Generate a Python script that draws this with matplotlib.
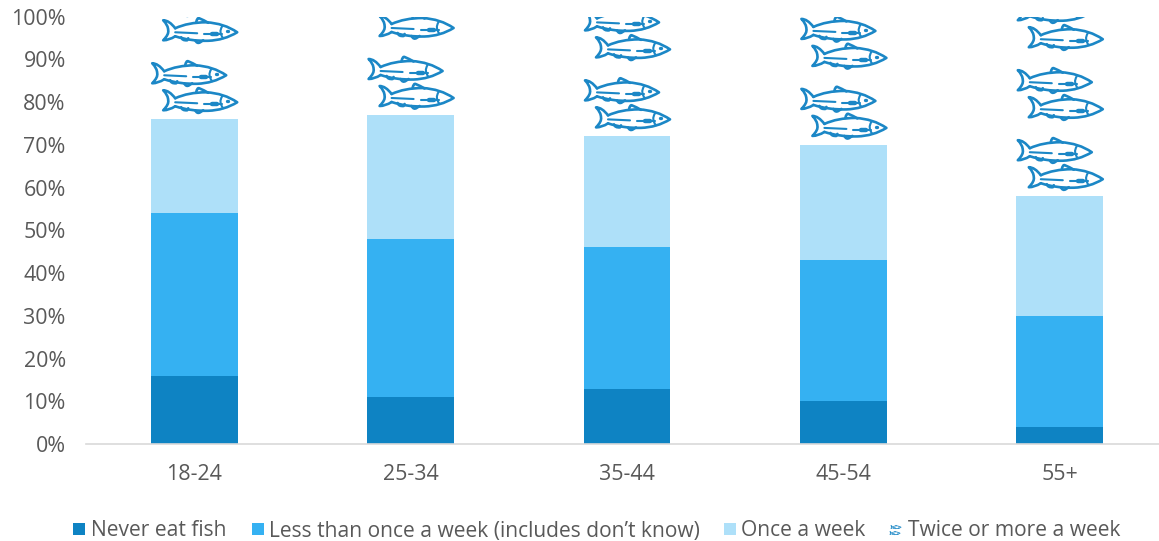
import matplotlib
matplotlib.use("Agg")
import matplotlib.pyplot as plt
from matplotlib.patches import PathPatch, Rectangle
from matplotlib.path import Path
from matplotlib.transforms import Affine2D

plt.rcParams['font.family'] = ['Open Sans', 'DejaVu Sans']

ages = ["18-24", "25-34", "35-44", "45-54", "55+"]
never = [16, 11, 13, 10, 4]
less_than_weekly = [38, 37, 33, 33, 26]
once_week = [22, 29, 26, 27, 28]
twice_or_more = [24, 23, 28, 30, 42]
series_names = ["Never eat fish", "Less than once a week (includes don\u2019t know)",
                "Once a week", "Twice or more a week"]

DARK = "#0e83c3"
MID = "#35b1f2"
LIGHT = "#aee0f9"
FISH = "#1b87c6"
TEXT = "#595959"

W, H = 1159, 541
fig = plt.figure(figsize=(W / 100, H / 100), dpi=100)
# the category band runs slightly past the right edge of the figure
ax = fig.add_axes([86 / W, 1 - 444.1 / H, 1082 / W, 427.4 / H])
ax.set_xlim(-0.5, 4.5)
ax.set_ylim(0, 100)

xpos = range(len(ages))
bottoms2 = [a for a in never]
bottoms3 = [a + b for a, b in zip(never, less_than_weekly)]
bottoms4 = [a + b + c for a, b, c in zip(never, less_than_weekly, once_week)]
ax.bar(xpos, never, width=0.402, color=DARK)
ax.bar(xpos, less_than_weekly, width=0.402, bottom=bottoms2, color=MID)
ax.bar(xpos, once_week, width=0.402, bottom=bottoms3, color=LIGHT)

# fish outline in pixels, centred on the body, nose to the right
M, L, C = Path.MOVETO, Path.LINETO, Path.CURVE3
fish_parts = [
    # tail
    ([(-25, -6), (-31, -10), (-37, -10), (-31, -4), (-32, 0), (-32, 5), (-37, 10), (-31, 10), (-25, 2)],
     [M, C, C, C, C, C, C, C, C], 1.9),
    # body
    ([(-25, 2), (-12, 8), (6, 8), (24, 7), (37, -2), (24, -10), (8, -10.5), (-10, -11), (-25, -6)],
     [M, C, C, C, C, C, C, C, C], 1.9),
    # dorsal fin
    ([(-4, 8), (-3, 13), (-1, 12), (4, 10), (8, 7.5)], [M, C, C, C, C], 1.9),
    # belly fins
    ([(-19, -7), (-18, -10.5), (-13, -10), (-12, -8)], [M, C, C, L], 1.9),
    ([(-5, -10), (-3, -14), (0, -12), (3, -10)], [M, C, C, L], 1.9),
    # gill
    ([(22, 4), (18, -2), (23, -8)], [M, C, C], 1.5),
    # lateral line
    ([(-25, -2), (-3, -3)], [M, L], 1.5),
    ([(4, -4), (22, -4)], [M, L], 1.5),
    ([(12, -4), (17, -4)], [M, L], 3.2),
    # eye
    ([(27, -1), (27.5, -1)], [M, L], 2.4),
]


def draw_fish(target, trans, scale):
    for verts, codes, lw in fish_parts:
        patch = PathPatch(Path(verts, codes), facecolor="none", edgecolor=FISH,
                          lw=lw * scale, transform=trans, capstyle="round", joinstyle="round")
        target.add_patch(patch)


# pixels per data unit, so the fish keep their shape on the data scale
px_x = 1082 / 5
px_y = 427.4 / 100
tile_h = 70 / px_y
for i, top, amount in zip(xpos, bottoms4, twice_or_more):
    n = 0
    while n * tile_h < amount:
        base = top + n * tile_h
        for dx, dy in [(6, 19), (-5, 46)]:
            trans = (Affine2D().scale(1 / px_x, 1 / px_y)
                     .translate(i + dx / px_x, base + dy / px_y) + ax.transData)
            draw_fish(ax, trans, 1.0)
        n += 1

for name in ["top", "left", "right"]:
    ax.spines[name].set_visible(False)
ax.spines["bottom"].set_color("#d9d9d9")
ax.spines["bottom"].set_linewidth(1.2)

ax.set_yticks(range(0, 101, 10))
ax.set_yticklabels([f"{v}%" for v in range(0, 101, 10)])
ax.set_xticks(list(xpos))
ax.set_xticklabels(ages)
ax.tick_params(axis="both", length=0, labelsize=15.4, labelcolor=TEXT)
ax.tick_params(axis="x", pad=14)
ax.tick_params(axis="y", pad=14.5)

# legend laid out by hand along the bottom edge
fig_px = Affine2D().scale(1 / W, 1 / H) + fig.transFigure
key_y = H - 535
for key_x, colour in [(73, DARK), (252, MID), (724, LIGHT)]:
    fig.add_artist(Rectangle((key_x, key_y), 12, 12, facecolor=colour,
                             edgecolor="none", transform=fig_px))
for dx, dy in [(896, 527), (895, 533)]:
    trans = Affine2D().scale(0.14).translate(dx, H - dy) + fig_px
    for verts, codes, lw in fish_parts:
        fig.add_artist(PathPatch(Path(verts, codes), facecolor="none", edgecolor=FISH,
                                 lw=0.5, transform=trans))
for text_x, name in zip([91, 269, 741, 908], series_names):
    fig.text(text_x / W, (H - 531) / H, name, color=TEXT, fontsize=15.15,
             ha="left", va="center")

fig.savefig("out.png", dpi=100)
